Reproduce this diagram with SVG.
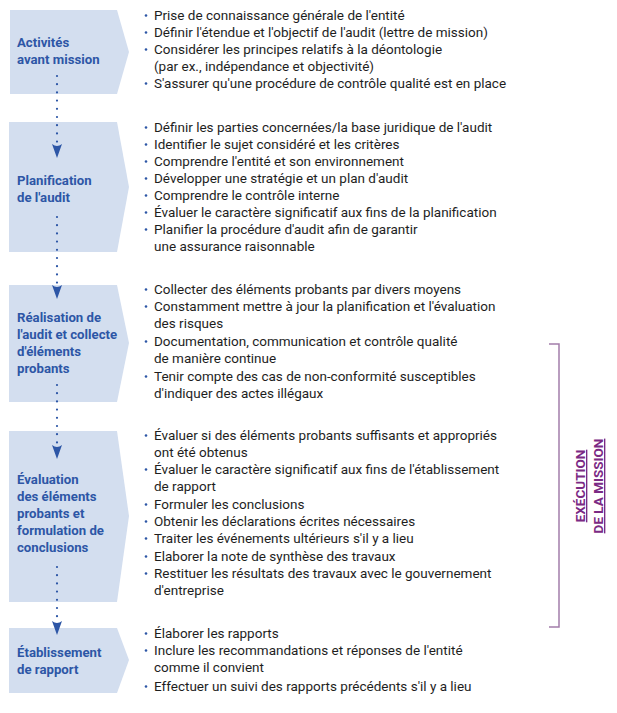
<svg xmlns="http://www.w3.org/2000/svg" width="617" height="713" viewBox="0 0 617 713">
<defs>
<style>
.box{fill:#d3deef}
.lbl{font-family:Roboto,"Liberation Sans",sans-serif;font-weight:bold;font-size:13.2px;fill:#2d56a6}
.txt{font-family:Roboto,"Liberation Sans",sans-serif;font-size:13.5px;fill:#1e1e1e}
.bul{fill:#2d56a6}
.dots{stroke:#2d56a6;stroke-width:2.2;stroke-linecap:round;stroke-dasharray:0 8.2;fill:none}
.head{fill:#2d56a6}
.brk{stroke:#a27dab;stroke-width:1.5;fill:none}
.vt{font-family:Roboto,"Liberation Sans",sans-serif;font-weight:bold;font-size:13.5px;fill:#7b2a84;text-decoration:underline}
</style>
<path id="ah" d="M-5,-14 Q0,-10 5,-14 L0,0 Z"/>
</defs>
<g id="node1">
<polygon class="box" points="10,10 117,10 129,52 117,94 10,94"/>
<text class="lbl" x="17" y="47">Activités</text>
<text class="lbl" x="17" y="64">avant mission</text>
</g>
<g id="node2">
<polygon class="box" points="9,122 117,122 129,187 117,252 9,252"/>
<text class="lbl" x="17" y="185">Planification</text>
<text class="lbl" x="17" y="202">de l'audit</text>
</g>
<g id="node3">
<polygon class="box" points="9,285 117,285 129,343 117,402 9,402"/>
<text class="lbl" x="17" y="322">Réalisation de</text>
<text class="lbl" x="17" y="339">l'audit et collecte</text>
<text class="lbl" x="17" y="356">d'éléments</text>
<text class="lbl" x="17" y="373">probants</text>
</g>
<g id="node4">
<polygon class="box" points="9,431 117,431 129,516 117,602 9,602"/>
<text class="lbl" x="17" y="484">Évaluation</text>
<text class="lbl" x="17" y="501">des éléments</text>
<text class="lbl" x="17" y="518">probants et</text>
<text class="lbl" x="17" y="535">formulation de</text>
<text class="lbl" x="17" y="552">conclusions</text>
</g>
<g id="node5">
<polygon class="box" points="9,628 117,628 129,660 117,693 9,693"/>
<text class="lbl" x="17" y="657">Établissement</text>
<text class="lbl" x="17" y="674">de rapport</text>
</g>
<g id="connectors">
<line class="dots" x1="57" y1="76" x2="57" y2="142"/>
<use href="#ah" class="head" x="57" y="158"/>
<line class="dots" x1="57" y1="217" x2="57" y2="283"/>
<use href="#ah" class="head" x="57" y="299"/>
<line class="dots" x1="57" y1="385" x2="57" y2="443"/>
<use href="#ah" class="head" x="57" y="459"/>
<line class="dots" x1="57" y1="567" x2="57" y2="618"/>
<use href="#ah" class="head" x="57" y="635"/>
</g>
<g id="list1">
<circle class="bul" cx="146" cy="15.5" r="1.3"/><text class="txt" x="154" y="20">Prise de connaissance générale de l'entité</text>
<circle class="bul" cx="146" cy="32.5" r="1.3"/><text class="txt" x="154" y="37">Définir l'étendue et l'objectif de l'audit (lettre de mission)</text>
<circle class="bul" cx="146" cy="49.5" r="1.3"/><text class="txt" x="154" y="54">Considérer les principes relatifs à la déontologie</text>
<text class="txt" x="154" y="71">(par ex., indépendance et objectivité)</text>
<circle class="bul" cx="146" cy="83.5" r="1.3"/><text class="txt" x="154" y="88">S'assurer qu'une procédure de contrôle qualité est en place</text>
</g>
<g id="list2">
<circle class="bul" cx="146" cy="127.5" r="1.3"/><text class="txt" x="154" y="132">Définir les parties concernées/la base juridique de l'audit</text>
<circle class="bul" cx="146" cy="144.5" r="1.3"/><text class="txt" x="154" y="149">Identifier le sujet considéré et les critères</text>
<circle class="bul" cx="146" cy="161.5" r="1.3"/><text class="txt" x="154" y="166">Comprendre l'entité et son environnement</text>
<circle class="bul" cx="146" cy="178.5" r="1.3"/><text class="txt" x="154" y="183">Développer une stratégie et un plan d'audit</text>
<circle class="bul" cx="146" cy="195.5" r="1.3"/><text class="txt" x="154" y="200">Comprendre le contrôle interne</text>
<circle class="bul" cx="146" cy="212.5" r="1.3"/><text class="txt" x="154" y="217">Évaluer le caractère significatif aux fins de la planification</text>
<circle class="bul" cx="146" cy="229.5" r="1.3"/><text class="txt" x="154" y="234">Planifier la procédure d'audit afin de garantir</text>
<text class="txt" x="154" y="251">une assurance raisonnable</text>
</g>
<g id="list3">
<circle class="bul" cx="146" cy="289.5" r="1.3"/><text class="txt" x="154" y="294">Collecter des éléments probants par divers moyens</text>
<circle class="bul" cx="146" cy="306.5" r="1.3"/><text class="txt" x="154" y="311">Constamment mettre à jour la planification et l'évaluation</text>
<text class="txt" x="154" y="328">des risques</text>
<circle class="bul" cx="146" cy="341.5" r="1.3"/><text class="txt" x="154" y="346">Documentation, communication et contrôle qualité</text>
<text class="txt" x="154" y="363">de manière continue</text>
<circle class="bul" cx="146" cy="376.5" r="1.3"/><text class="txt" x="154" y="381">Tenir compte des cas de non-conformité susceptibles</text>
<text class="txt" x="154" y="398">d'indiquer des actes illégaux</text>
</g>
<g id="list4">
<circle class="bul" cx="146" cy="435.5" r="1.3"/><text class="txt" x="154" y="440">Évaluer si des éléments probants suffisants et appropriés</text>
<text class="txt" x="154" y="457">ont été obtenus</text>
<circle class="bul" cx="146" cy="469.5" r="1.3"/><text class="txt" x="154" y="474">Évaluer le caractère significatif aux fins de l'établissement</text>
<text class="txt" x="154" y="491">de rapport</text>
<circle class="bul" cx="146" cy="504.5" r="1.3"/><text class="txt" x="154" y="509">Formuler les conclusions</text>
<circle class="bul" cx="146" cy="521.5" r="1.3"/><text class="txt" x="154" y="526">Obtenir les déclarations écrites nécessaires</text>
<circle class="bul" cx="146" cy="538.5" r="1.3"/><text class="txt" x="154" y="543">Traiter les événements ultérieurs s'il y a lieu</text>
<circle class="bul" cx="146" cy="556.5" r="1.3"/><text class="txt" x="154" y="561">Elaborer la note de synthèse des travaux</text>
<circle class="bul" cx="146" cy="573.5" r="1.3"/><text class="txt" x="154" y="578">Restituer les résultats des travaux avec le gouvernement</text>
<text class="txt" x="154" y="595">d'entreprise</text>
</g>
<g id="list5">
<circle class="bul" cx="146" cy="633.5" r="1.3"/><text class="txt" x="154" y="638">Élaborer les rapports</text>
<circle class="bul" cx="146" cy="650.5" r="1.3"/><text class="txt" x="154" y="655">Inclure les recommandations et réponses de l'entité</text>
<text class="txt" x="154" y="672">comme il convient</text>
<circle class="bul" cx="146" cy="686.5" r="1.3"/><text class="txt" x="154" y="691">Effectuer un suivi des rapports précédents s'il y a lieu</text>
</g>
<g id="execution">
<polyline class="brk" points="549,344 559,344 559,627 549,627"/>
<text class="vt" transform="translate(585,486) rotate(-90)" text-anchor="middle">EXÉCUTION</text>
<text class="vt" transform="translate(603,486) rotate(-90)" text-anchor="middle">DE LA MISSION</text>
</g>
</svg>
